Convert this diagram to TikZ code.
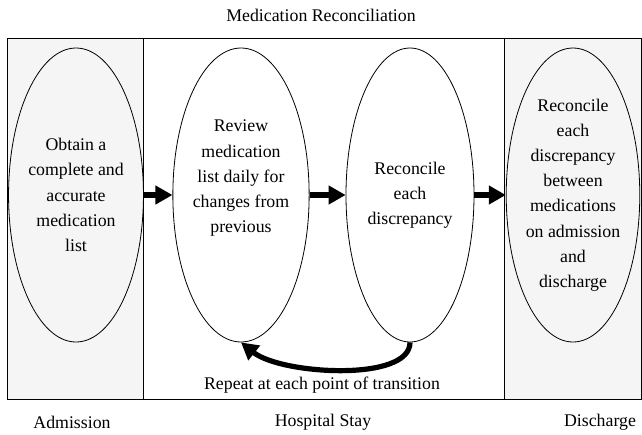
\documentclass[tikz,border=0pt]{standalone}
\usepackage{fontspec}
\setmainfont{Liberation Serif}
\usetikzlibrary{arrows.meta,positioning,shapes.geometric}

\begin{document}
\begin{tikzpicture}[
            x=0.5pt, y=-0.5pt,
            every node/.style={font=\fontsize{8.9pt}{12.6pt}\selectfont},
            stage/.style={
                draw, ellipse, inner sep=0pt, align=center,
                minimum width=64pt, minimum height=147pt
            },
            flow/.style={line width=2.6pt, -{Triangle[length=8.5pt,width=9pt]}},
            panel/.style={draw, line width=0.5pt}
        ]
        \useasboundingbox (0,0) rectangle (642,434);
        % panels
        \filldraw[panel, fill=gray!8] (7,38) rectangle (143,399);
        \draw[panel] (143,38) rectangle (504,399);
        \filldraw[panel, fill=gray!8] (504,38) rectangle (641,399);

        \node (title) at (321,15) {Medication Reconciliation};

        \node[stage] (obtain) at (76,195) {Obtain a\\complete and\\accurate\\medication\\list};
        \node[stage] (review) at (241,195) {Review\\medication\\list daily for\\changes from\\previous\\[6pt]};
        \node[stage] (reconcile) at (410,195) {Reconcile\\each\\discrepancy};
        \node[stage] (compare) at (573,195) {Reconcile\\each\\discrepancy\\between\\medications\\on admission\\and\\discharge};

        \draw[flow] (obtain) -- (review);
        \draw[flow] (review) -- (reconcile);
        \draw[flow] (reconcile) -- (compare);
        \draw[flow] (reconcile.south) .. controls +(0,40) and +(40,32) .. (review.south);

        \node (repeat) at (322,385) {Repeat at each point of transition};
        \node (admission) at (72,422) {Admission};
        \node (stay) at (323,422) {Hospital Stay};
        \node (discharge) at (600,422) {Discharge};
\end{tikzpicture}
\end{document}
